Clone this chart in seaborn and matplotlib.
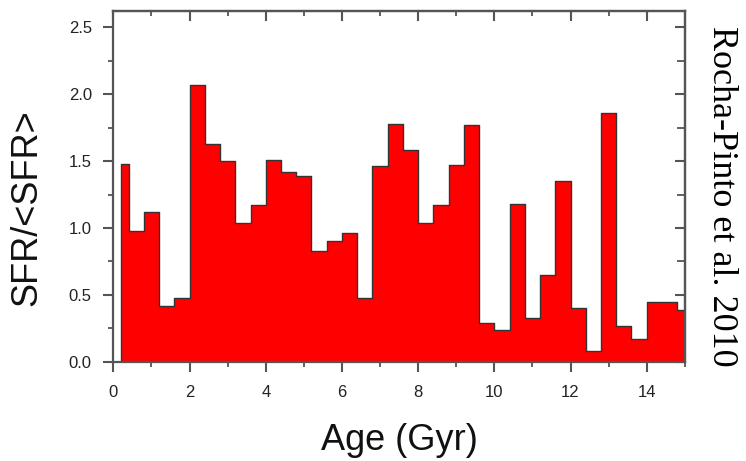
import seaborn as sns
import matplotlib.pyplot as plt

# bin edges (Gyr) and SFR/<SFR> per bin
age_edges = [0.2, 0.4, 0.8, 1.2, 1.6, 2.0, 2.4, 2.8, 3.2, 3.6, 4.0, 4.4, 4.8,
             5.2, 5.6, 6.0, 6.4, 6.8, 7.2, 7.6, 8.0, 8.4, 8.8, 9.2, 9.6, 10.0,
             10.4, 10.8, 11.2, 11.6, 12.0, 12.4, 12.8, 13.2, 13.6, 14.0, 14.4,
             14.8, 15.0]
sfr_ratio = [1.48, 0.98, 1.12, 0.42, 0.48, 2.07, 1.63, 1.50, 1.04, 1.17, 1.51,
             1.42, 1.39, 0.83, 0.90, 0.96, 0.48, 1.46, 1.78, 1.58, 1.04, 1.17,
             1.47, 1.77, 0.29, 0.24, 1.18, 0.33, 0.65, 1.35, 0.40, 0.08, 1.86,
             0.27, 0.17, 0.45, 0.45, 0.39]
xticks = [0, 2, 4, 6, 8, 10, 12, 14]
xminor = [1, 3, 5, 7, 9, 11, 13, 15]
yticks = [0.0, 0.5, 1.0, 1.5, 2.0, 2.5]
yminor = [0.25, 0.75, 1.25, 1.75, 2.25]

centers = [(a + b) / 2 for a, b in zip(age_edges[:-1], age_edges[1:])]

sns.set_style('ticks')
plt.rcParams['font.family'] = ['Liberation Sans', 'DejaVu Sans']

fig = plt.figure(figsize=(7.46, 4.61), dpi=100)
ax = fig.add_axes([0.152, 0.215, 0.766, 0.761])

sns.histplot(x=centers, weights=sfr_ratio, bins=age_edges, element='step',
             fill=True, color='#ff0000', alpha=1, edgecolor='#333333',
             linewidth=1.0, ax=ax)

ax.set_xlim(0, 15)
ax.set_ylim(0, 2.62)
ax.set_xticks(xticks)
ax.set_xticks(xminor, minor=True)
ax.set_yticks(yticks)
ax.set_yticks(yminor, minor=True)
ax.set_xticklabels([str(t) for t in xticks])
ax.set_yticklabels([f'{t:.1f}' for t in yticks])

spine_col = '#555555'
for s in ax.spines.values():
    s.set_visible(True)
    s.set_color(spine_col)
    s.set_linewidth(1.6)

ax.tick_params(which='major', direction='out', length=7.5, width=1.5,
               color=spine_col, labelsize=12, labelcolor='#222222')
ax.tick_params(axis='x', which='major', pad=9)
ax.tick_params(axis='y', which='major', pad=8)
ax.tick_params(which='minor', direction='out', length=3.5, width=1.3,
               color=spine_col)

# inward ticks on the top and right sides
top = ax.secondary_xaxis('top')
top.set_xticks(xticks)
top.set_xticks(xminor, minor=True)
top.tick_params(which='major', direction='in', length=7.5, width=1.5,
                color=spine_col, labeltop=False)
top.tick_params(which='minor', direction='in', length=3.5, width=1.3,
                color=spine_col)
top.spines['top'].set_color(spine_col)
top.spines['top'].set_linewidth(1.6)

right = ax.secondary_yaxis('right')
right.set_yticks(yticks)
right.set_yticks(yminor, minor=True)
right.tick_params(which='major', direction='in', length=7, width=1.5,
                  color=spine_col, labelright=False)
right.tick_params(which='minor', direction='in', length=6, width=1.3,
                  color=spine_col)
right.spines['right'].set_color(spine_col)
right.spines['right'].set_linewidth(1.6)

ax.set_xlabel('Age (Gyr)', fontsize=26, color='#111111', labelpad=17)
ax.set_ylabel('SFR/<SFR>', fontsize=26, color='#111111')
ax.yaxis.set_label_coords(-0.121, 0.44)

fig.text(0.967, 0.575, 'Rocha-Pinto et al. 2010', rotation=270,
         family=['Liberation Serif', 'DejaVu Serif'], fontsize=26,
         color='black', ha='center', va='center')

fig.savefig('out.png', dpi=100, facecolor='white')
plt.close(fig)
